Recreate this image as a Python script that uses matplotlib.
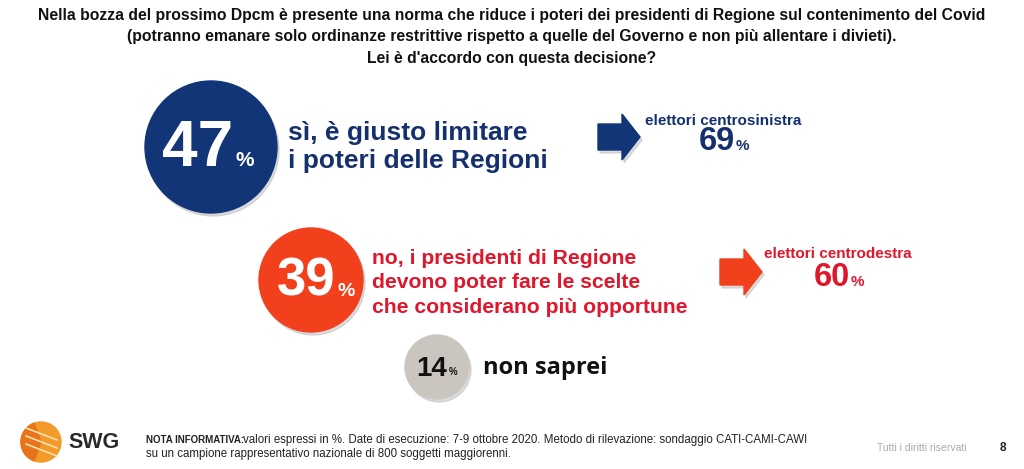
import numpy as np
import matplotlib.pyplot as plt
from matplotlib.patches import Circle, FancyArrow, Wedge

plt.rcParams['font.family'] = ['Liberation Sans', 'DejaVu Sans']

#--- dati
title_lines = [
    "Nella bozza del prossimo Dpcm è presente una norma che riduce i poteri dei presidenti di Regione sul contenimento del Covid",
    "(potranno emanare solo ordinanze restrittive rispetto a quelle del Governo e non più allentare i divieti).",
    "Lei è d'accordo con questa decisione?",
]
answer_values = [47, 39, 14]
answer_labels = [
    "sì, è giusto limitare\ni poteri delle Regioni",
    "no, i presidenti di Regione\ndevono poter fare le scelte\nche considerano più opportune",
    "non saprei",
]
answer_colors = ["#123578", "#f2401c", "#cbc5c0"]
text_colors = ["#14306e", "#e0162b", "#111111"]
group_labels = ["elettori centrosinistra", "elettori centrodestra"]
group_values = [69, 60]
note_bold = "NOTA INFORMATIVA:"
note_line1 = ("valori espressi in %. Date di esecuzione: 7-9 ottobre 2020. "
              "Metodo di rilevazione: sondaggio CATI-CAMI-CAWI")
note_line2 = "su un campione rappresentativo nazionale di 800 soggetti maggiorenni."

fig = plt.figure(figsize=(10.24, 4.69), dpi=100)
ax = fig.add_axes([0, 0, 1, 1])
ax.set_xlim(0, 1024)
ax.set_ylim(469, 0)
ax.axis('off')

#--- titolo
for i, line in enumerate(title_lines):
    ax.text(512, 15.5 + i * 21.5, line, ha='center', va='center', fontsize=11.3,
            fontweight='bold', color='#111111')

#--- cerchi (centro x, centro y, raggio)
circles = [(211, 147, 66), (311, 280, 52), (437, 367, 32)]
num_sizes = [46, 38, 20]
num_right = [22, 24, 10]
pct_sizes = [15, 14, 7]
pct_dy = [13, 12, 5]
label_x = [288, 372, 483]
label_y = [147, 283, 368]
label_sizes = [19, 15.2, 17]
label_space = [1.2, 1.34, 1.2]

for k in range(3):
    cx, cy, r = circles[k]
    ax.add_patch(Circle((cx + 2, cy + 3), r, color='#bbbbbb', alpha=0.5, zorder=1))
    ax.add_patch(Circle((cx, cy), r, color=answer_colors[k], zorder=2))
    num_col = 'white' if k < 2 else '#111111'
    ax.text(cx + num_right[k], cy + 2, str(answer_values[k]), ha='right', va='center',
            fontsize=num_sizes[k], fontweight='bold', color=num_col, zorder=3)
    ax.text(cx + num_right[k] + 2, cy + pct_dy[k], '%', ha='left', va='center',
            fontsize=pct_sizes[k], fontweight='bold', color=num_col, zorder=3)
    fam = ['Open Sans', 'DejaVu Sans'] if k == 2 else ['Liberation Sans', 'DejaVu Sans']
    ax.text(label_x[k], label_y[k], answer_labels[k], ha='left', va='center',
            fontsize=label_sizes[k], fontweight='bold', color=text_colors[k],
            linespacing=label_space[k], family=fam, zorder=3)

#--- frecce e sottogruppi
arrow_pos = [(598, 137), (720, 272)]
group_center = [723, 838]
group_y = [121, 254]
value_right = [735, 850]
value_y = [141, 277]
for k in range(2):
    x0, ay = arrow_pos[k]
    ax.add_patch(FancyArrow(x0 + 2, ay + 3, 42, 0, width=26, head_width=46, head_length=18,
                            length_includes_head=True, color='#bbbbbb', alpha=0.5, zorder=1))
    ax.add_patch(FancyArrow(x0, ay, 42, 0, width=26, head_width=46, head_length=18,
                            length_includes_head=True, color=answer_colors[k], zorder=2))
    ax.text(group_center[k], group_y[k], group_labels[k], ha='center', va='center',
            fontsize=11, fontweight='bold', color=text_colors[k])
    ax.text(value_right[k], value_y[k], str(group_values[k]), ha='right', va='center',
            fontsize=23.5, fontweight='bold', color=text_colors[k])
    ax.text(value_right[k] + 1, value_y[k] + 5, '%', ha='left', va='center',
            fontsize=11, fontweight='bold', color=text_colors[k])

#--- footer
ax.add_patch(Circle((41, 442), 20, color='#f39a2a', zorder=2))
ax.add_patch(Wedge((41, 442), 20, 110, 250, color='#e8731a', zorder=3))
for yy in [-8, 0, 8]:
    ax.plot([26, 57], [442 + yy - 6, 442 + yy + 6], color='#fde0b0', lw=1.2, zorder=4)
ax.text(68, 442, 'SWG', ha='left', va='center', fontsize=15.5, fontweight='bold', color='#2b2b2b')
ax.text(146, 440, note_bold, ha='left', va='center', fontsize=7.0, fontweight='bold', color='#222222')
ax.text(243, 440, note_line1, ha='left', va='center', fontsize=8.3, color='#222222')
ax.text(146, 454, note_line2, ha='left', va='center', fontsize=8.3, color='#222222')
ax.text(877, 448, 'Tutti i diritti riservati', ha='left', va='center', fontsize=7.5, color='#aaaaaa')
ax.text(1000, 448, '8', ha='left', va='center', fontsize=8.5, fontweight='bold', color='#222222')

fig.savefig('out.png', dpi=100)
